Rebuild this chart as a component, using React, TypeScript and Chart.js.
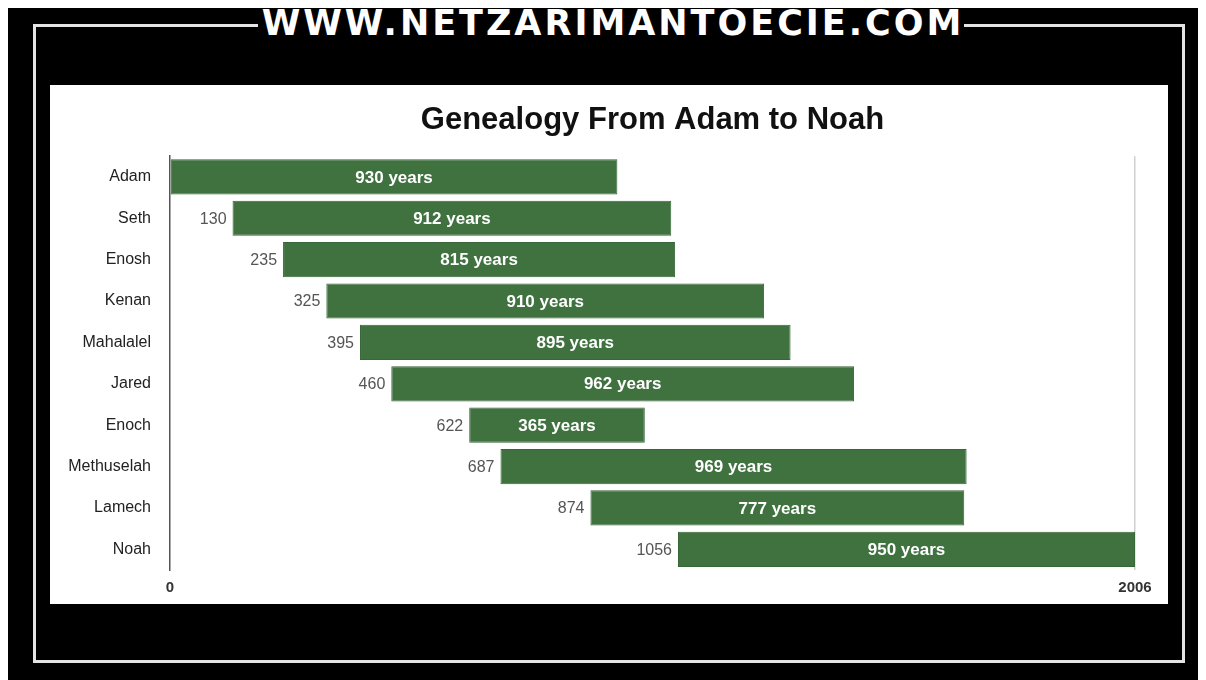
import React, { useEffect, useRef } from "react";
import { Chart, registerables } from "chart.js";

Chart.register(...registerables);

const names = ["Adam", "Seth", "Enosh", "Kenan", "Mahalalel", "Jared", "Enoch", "Methuselah", "Lamech", "Noah"];
const births = [0, 130, 235, 325, 395, 460, 622, 687, 874, 1056];
const lifespans = [930, 912, 815, 910, 895, 962, 365, 969, 777, 950];
const axisTicks = [0, 2006];

const chartTitle = "Genealogy From Adam to Noah";
const siteTitle = "WWW.NETZARIMANTOECIE.COM";

const FONT = "'Liberation Sans', Arial, Helvetica, sans-serif";

const barLabels = {
  id: "barLabels",
  afterDatasetsDraw(chart: any) {
    const ctx = chart.ctx;
    const meta = chart.getDatasetMeta(0);
    ctx.save();
    meta.data.forEach((el: any, i: number) => {
      const start = Math.min(el.x, el.base);
      const end = Math.max(el.x, el.base);
      const y = el.y;
      if (births[i] > 0) {
        ctx.font = `16px ${FONT}`;
        ctx.fillStyle = "#555";
        ctx.textAlign = "right";
        ctx.textBaseline = "middle";
        ctx.fillText(String(births[i]), start - 6, y + 1);
      }
      ctx.font = `bold 17px ${FONT}`;
      ctx.fillStyle = "#ffffff";
      ctx.textAlign = "center";
      ctx.textBaseline = "middle";
      ctx.fillText(`${lifespans[i]} years`, (start + end) / 2, y + 1);
    });
    ctx.restore();
  },
};

export default function App() {
  const canvasRef = useRef<HTMLCanvasElement | null>(null);

  useEffect(() => {
    if (!canvasRef.current) return;
    const chart = new Chart(canvasRef.current, {
      type: "bar",
      data: {
        labels: names,
        datasets: [
          {
            data: births.map((b, i) => [b, b + lifespans[i]]) as any,
            backgroundColor: "#407240",
            borderColor: "#386638",
            borderWidth: 1,
            borderSkipped: false,
            barPercentage: 0.85,
            categoryPercentage: 1,
          },
        ],
      },
      options: {
        indexAxis: "y",
        responsive: false,
        animation: false,
        layout: { padding: { left: 0, right: 33, top: 0, bottom: 0 } },
        plugins: {
          legend: { display: false },
          tooltip: { enabled: false },
          title: {
            display: true,
            text: chartTitle,
            fullSize: false,
            color: "#111",
            font: { family: FONT, size: 31, weight: "bold", lineHeight: 1.2 },
            padding: { top: 17, bottom: 17 },
          },
        },
        scales: {
          x: {
            type: "linear",
            min: 0,
            max: 2006,
            afterBuildTicks: (scale: any) => {
              scale.ticks = axisTicks.map((v) => ({ value: v }));
            },
            afterFit: (scale: any) => {
              scale.height = 34;
            },
            grid: {
              drawTicks: false,
              color: (c: any) => (c.tick && c.tick.value === 2006 ? "#cfcfcf" : "rgba(0,0,0,0)"),
              lineWidth: 1.5,
            },
            border: { display: false },
            ticks: {
              padding: 9,
              color: "#333",
              font: { family: FONT, size: 15, weight: "bold" },
              callback: (v: any) => String(v),
              maxRotation: 0,
            },
          },
          y: {
            afterFit: (scale: any) => {
              scale.width = 120;
            },
            grid: { display: false, drawTicks: false },
            border: { display: true, color: "#555", width: 1.5 },
            ticks: {
              padding: 19,
              color: "#222",
              font: { family: FONT, size: 16 },
            },
          },
        },
      },
      plugins: [barLabels],
    });
    return () => chart.destroy();
  }, []);

  return (
    <div
      style={{
        position: "relative",
        width: 1198,
        height: 672,
        background: "#000",
        overflow: "hidden",
      }}
    >
      <div
        style={{
          position: "absolute",
          left: 25,
          top: 16,
          width: 1152,
          height: 639,
          border: "3px solid #e4e4e4",
          boxSizing: "border-box",
        }}
      />
      <div
        style={{
          position: "absolute",
          left: 0,
          top: -5,
          width: 1206,
          textAlign: "center",
          lineHeight: "40px",
        }}
      >
        <span
          style={{
            background: "#000",
            color: "#fff",
            fontFamily: "'DejaVu Sans', sans-serif",
            fontWeight: "bold",
            fontSize: 35,
            letterSpacing: "3px",
            padding: "0 0 0 4px",
          }}
        >
          {siteTitle}
        </span>
      </div>
      <div
        style={{
          position: "absolute",
          left: 42,
          top: 77,
          width: 1118,
          height: 519,
          background: "#fff",
        }}
      >
        <canvas ref={canvasRef} width={1118} height={519} style={{ display: "block" }} />
      </div>
    </div>
  );
}
